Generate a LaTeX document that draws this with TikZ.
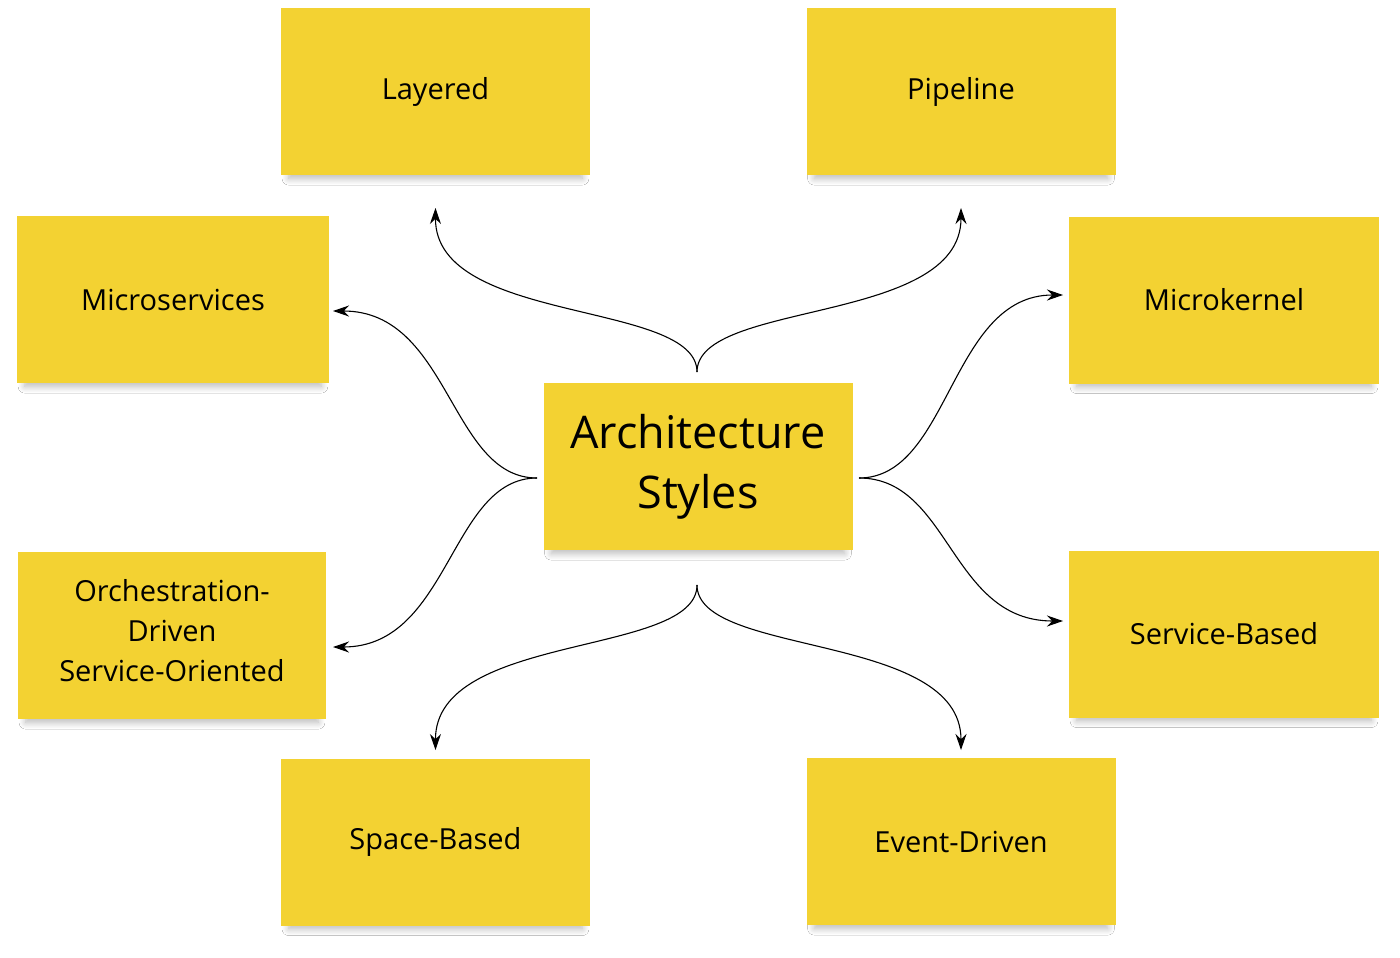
\documentclass[tikz,border=0pt]{standalone}
\usepackage{fontspec}
\setmainfont{Open Sans}
\usetikzlibrary{arrows.meta,shadows.blur}
\definecolor{sticky}{HTML}{F3D232}
\begin{document}
\begin{tikzpicture}[x=1pt,y=-1pt,
  note/.style={fill=sticky,minimum width=309pt,minimum height=167pt,inner sep=0pt,align=center,font=\fontsize{29}{40}\selectfont,
    blur shadow={shadow xshift=0pt,shadow yshift=-8pt,shadow scale=0.95,shadow blur radius=7pt,shadow blur steps=8,shadow opacity=28}},
  link/.style={-{Stealth[length=16pt,width=11pt]},line width=1.1pt}]
\useasboundingbox[fill=white] (0,0) rectangle (1400,958);
\node[note] (lay) at (435.5,91.5) {Layered};
\node[note] (pip) at (961,91.5) {Pipeline};
\node[note,minimum width=312pt] (mic) at (173,299.5) {Microservices};
\node[note,minimum width=310pt] (mk) at (1224,300) {Microkernel};
\node[note,font=\fontsize{45}{60}\selectfont] (c) at (698,466.5) {Architecture\\Styles};
\node[note,minimum width=308pt] (orc) at (172,635.5) {};
\node[align=center,font=\fontsize{29}{40}\selectfont] (orct) at (172,630.5) {Orchestration-\\Driven\\Service-Oriented};
\node[note,minimum width=310pt] (sb) at (1224,634) {Service-Based};
\node[note] (sp) at (435.5,842) {Space-Based};
\node[note] (ev) at (961,841.5) {Event-Driven};
\coordinate (ct) at (697,372);
\coordinate (cb) at (697,585);
\coordinate (cl) at (537,478);
\coordinate (cr) at (859,478);
\draw[link] (ct) .. controls (697,300) and (435,325) .. (lay.south |- 0,208);
\draw[link] (ct) .. controls (697,300) and (961,325) .. (pip.south |- 0,208);
\draw[link] (cb) .. controls (697,657) and (435,632) .. (sp.north |- 0,750);
\draw[link] (cb) .. controls (697,657) and (961,632) .. (ev.north |- 0,750);
\draw[link] (cl) .. controls (450,478) and (450,311) .. (333,311);
\draw[link] (cl) .. controls (450,478) and (450,647) .. (333,647);
\draw[link] (cr) .. controls (950,478) and (950,295) .. (1063,295);
\draw[link] (cr) .. controls (950,478) and (950,621) .. (1063,621);
\end{tikzpicture}
\end{document}
